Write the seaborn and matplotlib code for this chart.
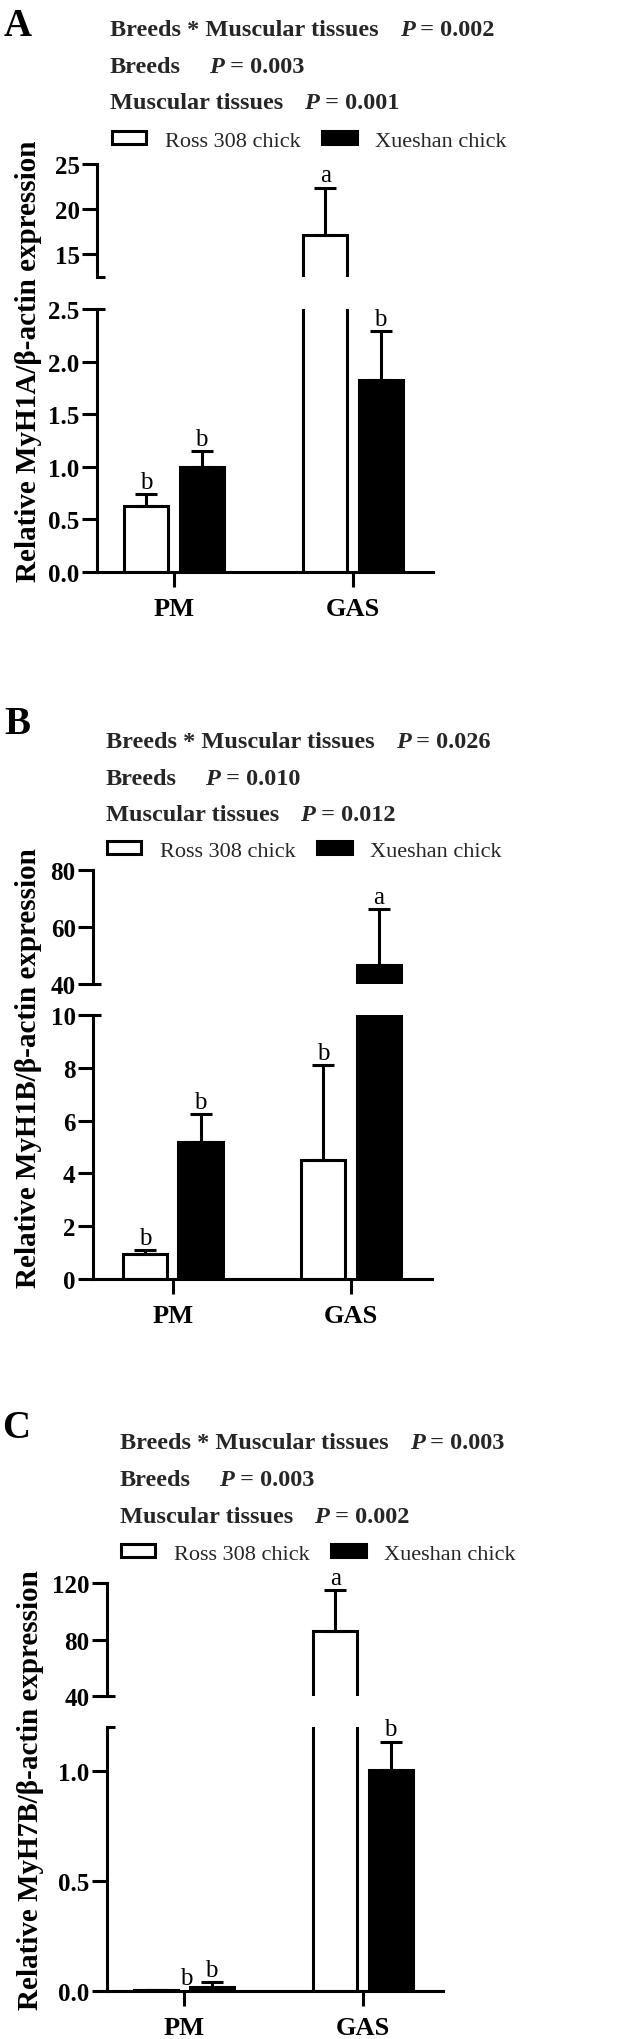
import numpy as np
import pandas as pd
import matplotlib
matplotlib.use("Agg")
import matplotlib.pyplot as plt
import seaborn as sns
from matplotlib.patches import Patch

# ---------------- data ----------------
tissues = ["PM", "GAS"]
breeds = ["Ross 308 chick", "Xueshan chick"]

# Panel A : MyH1A
a_ross = [0.63, 17.2]
a_ross_err = [0.11, 5.2]
a_xue = [1.00, 1.825]
a_xue_err = [0.15, 0.465]
a_ross_letters = ["b", "a"]
a_xue_letters = ["b", "b"]
a_pvals = ["0.002", "0.003", "0.001"]
a_upper_ticks = [15, 20, 25]
a_lower_ticks = [0.0, 0.5, 1.0, 1.5, 2.0, 2.5]
a_lower_labels = ["0.0", "0.5", "1.0", "1.5", "2.0", "2.5"]

# Panel B : MyH1B
b_ross = [0.95, 4.5]
b_ross_err = [0.15, 3.6]
b_xue = [5.2, 46.6]
b_xue_err = [1.05, 19.6]
b_ross_letters = ["b", "b"]
b_xue_letters = ["b", "a"]
b_pvals = ["0.026", "0.010", "0.012"]
b_upper_ticks = [40, 60, 80]
b_lower_ticks = [0, 2, 4, 6, 8, 10]
b_lower_labels = ["0", "2", "4", "6", "8", "10"]

# Panel C : MyH7B
c_ross = [0.003, 86.0]
c_ross_err = [0.001, 29.0]
c_xue = [0.02, 1.006]
c_xue_err = [0.022, 0.127]
c_ross_letters = ["b", "a"]
c_xue_letters = ["b", "b"]
c_pvals = ["0.003", "0.003", "0.002"]
c_upper_ticks = [40, 80, 120]
c_lower_ticks = [0.0, 0.5, 1.0]
c_lower_labels = ["0.0", "0.5", "1.0"]

effects = ["Breeds * Muscular tissues", "Breeds", "Muscular tissues"]

# ---------------- style ----------------
W, H = 635, 2040
serif = ["Liberation Serif", "DejaVu Serif"]
sns.set_theme(style="ticks")
plt.rcParams["font.family"] = serif
LW = 2.2

fig = plt.figure(figsize=(W / 100, H / 100), dpi=100)
fig.patch.set_facecolor("white")
renderer = fig.canvas.get_renderer()


def fx(x):
    return x / W


def fy(y):
    return 1 - y / H


panels = [
    dict(tag="A", gene="MyH1A", ross=a_ross, ross_err=a_ross_err, xue=a_xue, xue_err=a_xue_err,
         rl=a_ross_letters, xl=a_xue_letters, p=a_pvals,
         ut=a_upper_ticks, lt=a_lower_ticks, ll=a_lower_labels,
         uylim=(12.5, 25), lylim=(0, 2.5),
         x0=97, x1=433, uy=(165, 278), ly=(310, 573), xlim=(-0.430, 1.447),
         tag_xy=(4, 36), stat_x=110, stat_y=(36, 73, 109), leg=(112, 142), ylab=(29, 361),
         rdx=[0, 0]),
    dict(tag="B", gene="MyH1B", ross=b_ross, ross_err=b_ross_err, xue=b_xue, xue_err=b_xue_err,
         rl=b_ross_letters, xl=b_xue_letters, p=b_pvals,
         ut=b_upper_ticks, lt=b_lower_ticks, ll=b_lower_labels,
         uylim=(40, 80), lylim=(0, 10),
         x0=93, x1=432, uy=(871, 985), ly=(1016, 1280), xlim=(-0.449, 1.455),
         tag_xy=(4, 734), stat_x=106, stat_y=(748, 785, 821), leg=(107, 852), ylab=(29, 1068),
         rdx=[0, 0]),
    dict(tag="C", gene="MyH7B", ross=c_ross, ross_err=c_ross_err, xue=c_xue, xue_err=c_xue_err,
         rl=c_ross_letters, xl=c_xue_letters, p=c_pvals,
         ut=c_upper_ticks, lt=c_lower_ticks, ll=c_lower_labels,
         uylim=(40, 120), lylim=(0, 1.2),
         x0=107, x1=443, uy=(1584, 1697), ly=(1728, 1992), xlim=(-0.430, 1.447),
         tag_xy=(2, 1438), stat_x=120, stat_y=(1449, 1486, 1523), leg=(121, 1555), ylab=(31, 1790),
         rdx=[0.17, 0]),
]

stat_gaps = [21, 28, 21]

for P in panels:
    df = pd.DataFrame({
        "tissue": tissues * 2,
        "breed": [breeds[0]] * 2 + [breeds[1]] * 2,
        "value": list(P["ross"]) + list(P["xue"]),
        "err": list(P["ross_err"]) + list(P["xue_err"]),
        "letter": list(P["rl"]) + list(P["xl"]),
        "dx": list(P["rdx"]) + [0, 0],
    })
    wpx = P["x1"] - P["x0"]
    axu = fig.add_axes([fx(P["x0"]), fy(P["uy"][1]), wpx / W, (P["uy"][1] - P["uy"][0]) / H])
    axl = fig.add_axes([fx(P["x0"]), fy(P["ly"][1]), wpx / W, (P["ly"][1] - P["ly"][0]) / H])

    for ax in (axu, axl):
        sns.barplot(data=df, x="tissue", y="value", hue="breed", order=tissues, hue_order=breeds,
                    palette=["white", "black"], saturation=1, width=0.62, gap=0.2,
                    edgecolor="black", linewidth=LW, errorbar=None, legend=False, ax=ax)
        ax.set_xlim(*P["xlim"])
        ax.set_xlabel("")
        ax.set_ylabel("")
        ax.set_facecolor("none")
        for s in ("top", "right"):
            ax.spines[s].set_visible(False)
        for s in ("left", "bottom"):
            ax.spines[s].set_linewidth(LW)
            ax.spines[s].set_color("black")
        ax.tick_params(axis="y", length=11, width=LW, pad=1.5, labelsize=18, colors="black")

        for p in list(ax.patches):
            cx = p.get_x() + p.get_width() / 2
            ci = int(round(cx))
            hi = 0 if cx < ci else 1
            row = df[(df["tissue"] == tissues[ci]) & (df["breed"] == breeds[hi])].iloc[0]
            ax.errorbar(cx, row["value"], yerr=[[0], [row["err"]]], fmt="none", ecolor="black",
                        elinewidth=LW, capsize=8, capthick=LW, zorder=3)
            top = row["value"] + row["err"]
            in_upper = top > P["lylim"][1]
            if (ax is axu) == in_upper:
                ax.annotate(row["letter"], xy=(cx + row["dx"], top), xytext=(0, 4.5),
                            textcoords="offset points", ha="center", va="baseline",
                            fontsize=18, annotation_clip=False, color="black")

    axu.set_ylim(*P["uylim"])
    axl.set_ylim(*P["lylim"])
    axu.spines["bottom"].set_visible(False)
    axu.tick_params(axis="x", bottom=False, labelbottom=False)
    axu.set_yticks(P["ut"])
    axu.set_yticklabels([str(t) for t in P["ut"]], fontweight="bold")
    axl.set_yticks(P["lt"])
    axl.set_yticklabels(P["ll"], fontweight="bold")
    axl.tick_params(axis="x", length=11, width=LW, pad=7, labelsize=19, colors="black")
    axl.set_xticks(range(len(tissues)))
    axl.set_xticklabels(tissues, fontweight="bold")

    # break caps
    cap = 8 / wpx
    axu.plot([0, cap], [0, 0], transform=axu.transAxes, color="black", lw=LW, clip_on=False,
             solid_capstyle="butt")
    axl.plot([0, cap], [1, 1], transform=axl.transAxes, color="black", lw=LW, clip_on=False,
             solid_capstyle="butt")

    # y label
    fig.text(fx(P["ylab"][0]), fy(P["ylab"][1]),
             "Relative %s/\u03b2-actin expression" % P["gene"], rotation=90,
             ha="center", va="center", fontsize=21, fontweight="bold", color="black")

    # panel tag
    fig.text(fx(P["tag_xy"][0]), fy(P["tag_xy"][1]), P["tag"], fontsize=28, fontweight="bold",
             ha="left", va="baseline", color="black")

    # statistics lines
    for eff, pv, yb, gap in zip(effects, P["p"], P["stat_y"], stat_gaps):
        x = P["stat_x"]
        t = fig.text(fx(x), fy(yb), eff, fontsize=17.5, fontweight="bold", ha="left", va="baseline")
        x = t.get_window_extent(renderer).x1 + gap
        t = fig.text(fx(x), fy(yb), "P", fontsize=17.5, fontweight="bold", fontstyle="italic",
                     ha="left", va="baseline")
        x = t.get_window_extent(renderer).x1
        fig.text(fx(x), fy(yb), " = " + pv, fontsize=17.5, fontweight="bold", ha="left",
                 va="baseline")

    # legend
    handles = [Patch(facecolor="white", edgecolor="black", linewidth=LW, label=breeds[0]),
               Patch(facecolor="black", edgecolor="black", linewidth=LW, label=breeds[1])]
    fig.legend(handles=handles, loc="center left", bbox_to_anchor=(fx(P["leg"][0]), fy(P["leg"][1])),
               ncol=2, frameon=False, fontsize=16, handlelength=1.55, handleheight=0.5,
               handletextpad=0.85, columnspacing=0.95, borderpad=0, borderaxespad=0)

fig.savefig("out.png", dpi=100, facecolor="white")
